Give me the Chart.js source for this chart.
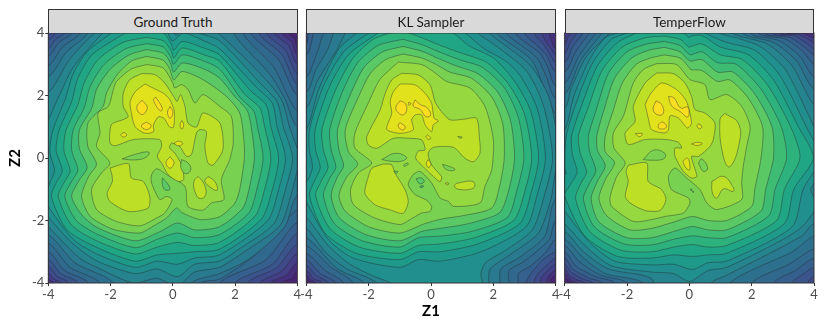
<!DOCTYPE html>
<html lang="en">
<head>
<meta charset="UTF-8">
<title>Contours</title>
<script src="https://cdn.jsdelivr.net/npm/chart.js"></script>
<style>
    body { margin: 0; background: #fff; font-family: Lato, sans-serif; }
    canvas { position: absolute; top: 0; }
    .strip {
        position: absolute; top: 8.5px; height: 24.5px; line-height: 24px;
        box-sizing: border-box; border: 1px solid #333; border-bottom: 0;
        background: #d9d9d9; color: #1a1a1a; font-size: 13.5px; text-align: center;
    }
</style>
</head>
<body>
<canvas id="c0" width="306" height="330" style="left:0"></canvas>
<canvas id="c1" width="271" height="330" style="left:294px"></canvas>
<canvas id="c2" width="271" height="330" style="left:553px"></canvas>
<div class="strip" style="left:48.3px;width:249.4px">Ground Truth</div>
<div class="strip" style="left:306.3px;width:249.4px">KL Sampler</div>
<div class="strip" style="left:564.7px;width:249.4px">TemperFlow</div>
<script>
const tickValues = [-4, -2, 0, 2, 4];
const tickLabels = ['-4', '-2', '0', '2', '4'];

// colour of each contour band, index = band number
const bandColors = ['#fbdd22', '#e1e21b', '#bddf26', '#95d840', '#78d151', '#5ac864', '#3fbc73',
    '#2db27d', '#21a685', '#1f9a8a', '#218f8d', '#25848e', '#297a8e', '#2d708e', '#31688e',
    '#355f8d', '#3a548c', '#3f4a8a', '#433e85', '#46307e', '#482475'];

// each entry: band, then x,y pairs of the contour in Z1/Z2 units. painted in order.
const truthContours = [
 [20, -6,6, 6,6, 6,-6, -6,-6],
 [19, -5,5, 3.7,5, 3.72,4, 3.9,3.85, 4,3.6, 5,3.5, 5,-3.5, 4,-3.6, 3.85,-3.85, 3.5,-4, 3.4,-5, -5,-5],
 [18, -5,5, 3.45,5, 3.5,4, 3.82,3.72, 4,3.3, 5,3.2, 5,-3.25, 4,-3.35, 3.65,-3.75, 3.15,-4, 3.1,-5, -3.8,-5, -3.83,-4, -3.92,-3.93, -4,-3.87, -5,-3.8],
 [17, -5,5, 3.2,5, 3.25,4, 3.72,3.6, 4,3, 5,2.9, 5,-2.95, 4,-3.05, 3.5,-3.62, 2.8,-4, 2.75,-5, -3.55,-5, -3.6,-4, -3.83,-3.87, -4,-3.68, -5,-3.6],
 [16, -5,3.7, -4,3.78, -3.87,3.87, -3.78,4, -3.7,5, 2.95,5, 3,4, 3.62,3.45, 4,2.7, 5,2.6, 5,-2.65, 4,-2.75, 3.35,-3.5, 2.4,-4, 2.35,-5, -3.3,-5, -3.35,-4, -3.72,-3.78, -4,-3.47, -5,-3.4],
 [15, -5,3.45, -4,3.5, -3.78,3.78, -3.5,4, -3.45,5, 2.7,5, 2.75,4, 3.52,3.3, 4,2.35, 5,2.25, 5,-2.3, 4,-2.4, 3.2,-3.4, 2,-4, 1.95,-5, -3,-5, -3.03,-4, -3.6,-3.7, -4,-3.25, -5,-3.15],
 [14, -5,3.2, -4,3.25, -3.68,3.68, -3.25,4, -3.2,5, 2.45,5, 2.5,4, 3.4,3.15, 4,2, 5,1.9, 5,-1.95, 4,-2.05, 3,-3.25, 1.5,-4, 1.45,-5, -2.65,-5, -2.71,-4, -3.48,-3.6, -4,-2.99, -5,-2.9],
 [13, -5,2.9, -4,2.95, -3.55,3.55, -2.98,4, -2.9,5, 2.2,5, 2.25,4, 3.25,2.9, 4,1.5, 5,1.4, 5,-1.55, 4,-1.65, 2.7,-3.05, 1.5,-3.88, .9,-4, .85,-5, -2.3,-5, -2.34,-4, -3.3,-3.5, -4,-2.72, -5,-2.6],
 [12, -5,2.55, -4,2.6, -3.43,3.38, -2.74,4, -2.7,5, 1.9,5, 1.95,4, 3.1,2.7, 3.6,1.9, 4,1, 5,.9, 5,-1.1, 4,-1.2, 3.6,-2.2, 2.5,-3.2, 1.5,-3.7, .6,-4, .5,-5, -1.85,-5, -1.9,-4, -3.15,-3.35, -4,-2.45, -5,-2.35],
 [11, -5,2, -4,2.1, -3.32,3.15, -2.5,4, -1.5,4.6, .5,4.6, 1.45,4, 2.95,2.55, 3.5,1.85, 3.75,1, 4,.3, 4.15,0, 4,-.4, 3.85,-1, 3.45,-2.15, 2.3,-3, 1.5,-3.5, .7,-3.65, .15,-4.1, -.5,-3.85, -1.27,-4, -2.4,-3.52, -3,-3.2, -4,-2.19, -5,-1],
 [10, -4.3,.4, -4,1.2, -3.6,2.1, -3.2,2.9, -2.24,4, -1.5,4.5, -.25,4.3, .1,3.93, .35,4.1, .8,4, 1.5,3.75, 2.8,2.4, 3.35,1.8, 3.55,1, 3.85,0, 3.62,-1, 3.25,-2.1, 2.15,-2.9, 1.5,-3.3, .7,-3.4, .15,-3.8, -.5,-3.55, -1.2,-3.7, -2.4,-3.31, -3.2,-2.75, -4,-1.87, -4.3,-1.2, -4.25,-.4],
 [9, -1.97,4, -1,4.3, -.3,4.25, -.02,3.75, .35,4, 1,3.75, 1.5,3.5, 2.65,2.3, 3.2,1.75, 3.35,1, 3.62,0, 3.4,-1, 3.05,-2, 1.5,-3.1, .7,-3.2, .15,-3.4, -.5,-3.3, -1.2,-3.5, -2.4,-3.09, -3.2,-2.6, -4,-1.55, -4.1,-1.2, -3.95,-.8, -3.8,-.4, -3.95,.2, -3.85,.9, -3.45,1.9, -3.2,2.7, -2.75,3.4],
 [8, -1.53,4, -.84,4.1, -.3,4, -.05,3.65, .03,3.45, .3,3.73, 1,3.52, 1.5,3.3, 2.5,2.15, 3,1.7, 3.15,1, 3.4,0, 3.2,-1, 2.85,-1.95, 1.5,-2.92, .7,-3, .15,-3.05, -.5,-3.1, -1.2,-3.3, -2.4,-2.88, -3.4,-2.3, -3.9,-1.23, -3.75,-.8, -3.55,-.42, -3.75,.25, -3.65,.9, -3.25,1.8, -3.05,2.55, -2.6,3.3],
 [7, -.84,3.86, -.3,3.75, -.05,3.42, .03,3.2, .3,3.52, 1,3.3, 1.5,3.1, 2.3,2.05, 2.8,1.6, 2.95,1, 3.15,0, 2.95,-1, 2.65,-1.85, 1.5,-2.7, .7,-2.8, .15,-2.7, -.5,-2.85, -1.2,-3.07, -2.4,-2.67, -3.25,-2.15, -3.68,-1.23, -3.5,-.8, -3.3,-.42, -3.5,.25, -3.43,.9, -3.05,1.7, -2.85,2.4, -2.4,3.15, -1.6,3.7],
 [6, -.84,3.66, -.3,3.55, -.08,3.25, .03,3, .3,3.3, 1,3.1, 1.5,2.85, 2.15,1.95, 2.6,1.5, 2.72,1, 2.9,0, 2.7,-1, 2.45,-1.75, 1.5,-2.45, .7,-2.55, .15,-2.4, -.5,-2.6, -1.2,-2.87, -2.4,-2.45, -3.1,-2, -3.47,-1.23, -3.25,-.75, -3.05,-.38, -3.25,.25, -3.2,.9, -2.85,1.6, -2.65,2.3, -2.2,3, -1.5,3.5],
 [5, -.84,3.47, -.3,3.35, -.08,3.05, .03,2.75, .3,3.04, 1,2.85, 1.5,2.56, 1.98,1.98, 2.4,1.5, 2.55,.8, 2.62,0, 2.45,-1, 2.25,-1.6, 1.5,-2.2, .7,-2.3, .15,-2.08, -.4,-2.35, -1.2,-2.65, -2.4,-2.24, -2.9,-1.85, -3.25,-1.23, -3,-.7, -2.75,-.3, -3,.3, -3,.9, -2.6,1.6, -2.45,2.2, -2,2.85, -1.4,3.3],
 [4, -.84,3.25, -.31,3.13, -.1,2.85, .03,2.5, .3,2.77, .98,2.5, 1.72,1.97, 2.15,1.44, 2.28,.6, 2.3,0, 2.15,-1, 1.99,-1.45, 1.5,-1.88, .87,-1.97, .3,-1.75, .12,-1.6, -.2,-1.92, -.63,-2.18, -1.06,-2.4, -1.92,-2.28, -2.65,-1.87, -2.93,-1.23, -2.7,-.58, -2.45,-.2, -2.73,.37, -2.72,1.13, -2.24,1.65, -2.13,2.08, -1.8,2.65, -1.33,3.1],
 [3, -.84,2.99, -.31,2.88, 0,2.4, .06,2.24, .28,2.35, .49,2.19, .71,1.76, .97,2.03, 1.51,1.65, 1.88,1.33, 1.94,.48, 1.83,-.05, 1.56,-.69, 1.64,-1.33, 1.24,-1.44, .97,-1.67, .49,-1.55, .39,-.91, -.2,-.53, -.52,-.34, -.68,-.53, -.68,-.8, -.42,-1.33, -.2,-1.23, -.02,-1.33, -.26,-1.76, -.52,-1.92, -1.06,-2.17, -1.81,-2.03, -2.45,-1.65, -2.61,-1.01, -2.29,-.48, -2.02,-.16, -2.45,.37, -2.34,.8, -2.4,1.44, -2.07,1.65, -1.91,2.19, -1.81,2.45, -1.33,2.85],
 [5, -.33,-.64, -.15,-.85, -.1,-1.01, -.26,-1.01, -.34,-.8],
 [2, -1,2.7, -.58,2.67, -.26,2.4, .06,1.92, .14,1.81, .25,2.03, .39,1.65, .49,1.12, .76,.99, .97,1.44, 1.51,1.12, 1.61,.27, 1.29,-.23, 1.13,-.16, 1.03,.37, 1.08,.85, .87,.91, .76,.8, .6,.11, .44,.05, .22,.37, -.04,.48, -.1,.32, .06,.16, .28,-.21, .35,-.69, .17,-.75, -.15,-.53, -.36,-.16, -.5,.05, -.36,.37, -.42,.59, -1.27,.59, -1.86,.39, -2.02,.48, -1.97,1.07, -1.59,1.23, -1.43,1.33, -1.59,1.65, -1.59,2.08, -1.38,2.51],
 [2, -2.02,-.32, -1.43,-.18, -1.33,-.64, -.95,-.75, -.74,-1.23, -.79,-1.6, -1.43,-1.71, -2.02,-1.39, -2.11,-1.12, -1.94,-.75, -1.97,-.48],
 [2, .81,-.59, .99,-.8, 1.06,-1.17, .87,-1.3, .71,-1.07, .68,-.75],
 [2, 1.13,-.59, 1.35,-.75, 1.43,-1.03, 1.24,-.96, 1.03,-.75],
 [4, .28,-.05, .49,-.16, .58,-.37, .42,-.5, .26,-.32],
 [4, -1.63,-.03, -1.2,.12, -.77,.19, -.85,.03, -1.2,-.06],
 [1, -.89,2.37, -.62,2.23, -.3,2.07, -.09,1.86, .05,1.48, .02,.98, -.11,1, -.28,1.27, -.46,1.32, -.62,1.06, -.62,.84, -.89,.79, -1.21,1, -1.35,1.54, -1.37,1.8, -1.21,2.12],
 [1, -1.68,.74, -1.58,.81, -1.48,.74, -1.58,.67],
 [1, .29,1.2, .35,1.06, .29,.92, .23,1.06],
 [1, .04,.46, .18,.54, .32,.46, .18,.39],
 [1, -.09,.04, .04,-.15, -.09,-.33, -.22,-.15],
 [0, -.99,1.85, -.82,1.62, -.99,1.39, -1.16,1.62],
 [0, -.55,1.95, -.34,1.6, -.4,1.5, -.62,1.85],
 [0, -.09,1.65, .0,1.46, -.09,1.27, -.17,1.46],
 [0, -.85,1.15, -.69,1.03, -.85,.91, -1.01,1.03]
];

const klContours = [
 [20, -6,6, 6,6, 6,-6, -6,-6],
 [19, -5,5, 5,5, 5,-3.7, 4,-3.75, 3.85,-3.88, 3.85,-4, 3.8,-5, -3.8,-5, -3.85,-4, -4,-3.9, -5,-3.85],
 [18, -5,5, 3.75,5, 3.8,4, 3.85,3.8, 4,3.5, 5,3.45, 5,-3.55, 4,-3.6, 3.82,-3.72, 3.7,-4, 3.65,-5, -3.65,-5, -3.7,-4, -3.88,-3.88, -4,-3.75, -5,-3.7],
 [17, -5,5, 3.5,5, 3.55,4, 3.7,3.7, 3.85,3.5, 4,3.3, 5,3.25, 5,-3.35, 4,-3.4, 3.75,-3.6, 3.55,-3.8, 3.5,-4, 3.45,-5, -3.45,-5, -3.5,-4, -3.78,-3.85, -4,-3.6, -5,-3.55],
 [16, -5,5, 3.25,5, 3.3,4, 3.6,3.65, 3.8,3.35, 4,3.05, 5,3, 5,-3.15, 4,-3.2, 3.7,-3.45, 3.4,-3.75, 3.3,-4, 3.25,-5, -3.25,-5, -3.3,-4, -3.7,-3.75, -4,-3.45, -5,-3.4],
 [15, -5,3.6, -4,3.65, -3.95,4, -3.9,5, 2.9,5, 3,4, 3.4,3.6, 3.7,3.3, 4,2.75, 5,2.7, 5,-2.9, 4,-3, 3.6,-3.25, 3.2,-3.7, 3.05,-4, 3,-5, -3,-5, -3.05,-4, -3.55,-3.7, -4,-3.25, -5,-3.2],
 [14, -3.78,4, -3.6,5, 2.6,5, 2.7,4, 3.1,3.65, 3.5,3.35, 3.75,2.9, 4,2.3, 5,2.2, 5,-2.5, 4,-2.6, 3.7,-3, 3.2,-3.45, 2.8,-3.7, 2.8,-4, 2.7,-5, -2.7,-5, -2.8,-4, -3.4,-3.6, -4,-3.05, -5,-3, -5,3.2, -4,3.3, -3.85,3.65],
 [13, -3.45,4, -3,5, 2,5, 2.4,4, 2.9,3.6, 3.4,3.2, 3.7,2.6, 4,1.9, 5,1.8, 5,-1.9, 4,-2, 3.8,-2.6, 3,-3.3, 2.5,-3.6, 2.5,-4, 2.4,-5, -2.4,-5, -2.5,-4, -3.2,-3.5, -4,-2.8, -5,-2.7, -5,2.5, -4,2.6, -3.75,3.1],
 [12, -3.13,4, -2,5, 1.5,5, 2.1,4, 3.25,3.1, 4,1.4, 5,1.3, 5,-1.2, 4,-1.3, 3.65,-2.5, 2.8,-3.2, 2.25,-3.55, 2.2,-4, 2.1,-5, -2.1,-5, -2.15,-4, -3,-3.55, -4,-2.55, -5,-2.4, -5,2, -4,2.1, -3.7,2.8, -3.3,3.5],
 [11, -2.75,4, -1,4.8, 1,4.8, 1.85,4, 3.2,2.95, 3.8,1.9, 4.1,.4, 4.15,0, 4,-.4, 3.85,-1.3, 3.45,-2.4, 2.6,-3.05, 1.9,-3.55, 1.85,-4, 1.9,-4.8, -1.7,-4.8, -1.75,-4, -2.7,-3.55, -3.4,-3, -4,-2.25, -4.8,-2, -4.8,1.5, -4,1.6, -3.65,2.45, -3,3.5],
 [10, -2.38,4, -1,4.7, 1,4.7, 1.5,4, 2,3.65, 3.05,2.8, 3.6,1.7, 3.9,0, 3.62,-1.25, 3.25,-2.3, 2.4,-2.95, 1.75,-3.35, 1.6,-3.7, 1.65,-4.2, -1.25,-4.2, -1.3,-4, -1.8,-3.8, -2.6,-3.4, -3.3,-2.8, -4,-1.9, -4.6,-1.5, -4.6,.5, -4,.9, -3.6,2.2, -2.95,3.5],
 [9, -2,4, -1,4.5, .5,4.5, 1.1,4, 1.7,3.5, 2.4,3.1, 2.85,2.65, 3.4,1.6, 3.67,0, 3.4,-1.2, 3.05,-2.2, 1.6,-3, .3,-3.3, -.4,-3.25, -1,-3.5, -2.5,-3.2, -3.3,-2.6, -4,-1.4, -4.2,-1, -3.95,-.7, -3.8,-.3, -3.9,.25, -3.9,.9, -3.45,2.3, -2.8,3.4],
 [8, -1.7,4, -.9,4.3, 0,4.1, .7,4, 1.2,3.6, 2,3.2, 2.65,2.5, 3.2,1.5, 3.45,0, 3.2,-1.15, 2.85,-2.1, 1.5,-2.75, .3,-3, -.4,-3, -1,-3.25, -2.4,-3.05, -3.4,-2.4, -3.9,-1.2, -3.72,-.7, -3.55,-.3, -3.7,.25, -3.72,.9, -3.25,2.3, -2.65,3.3],
 [7, -1.32,4, -.9,4.05, -.3,3.85, .3,3.6, 1,3.35, 1.8,3.05, 2.5,2.35, 3,1.4, 3.23,0, 3,-1.1, 2.65,-2, 1.4,-2.55, .3,-2.75, -.4,-2.8, -1,-3.05, -2.3,-2.85, -3.25,-2.25, -3.7,-1.2, -3.5,-.7, -3.3,-.3, -3.45,.25, -3.5,.9, -3.05,2.2, -2.5,3.2, -1.85,3.8],
 [6, -.9,3.8, -.3,3.63, .25,3.4, .9,3.15, 1.65,2.9, 2.35,2.25, 2.8,1.3, 2.98,0, 2.75,-1.05, 2.45,-1.9, 1.3,-2.35, .3,-2.5, -.4,-2.55, -1,-2.85, -2.2,-2.65, -3.1,-2.1, -3.45,-1.2, -3.25,-.65, -3.05,-.3, -3.2,.25, -3.25,.9, -2.85,2.1, -2.35,3.05, -1.7,3.6],
 [5, -.9,3.57, -.3,3.42, .2,3.2, .8,2.95, 1.5,2.7, 2.15,2.1, 2.55,1.2, 2.68,0, 2.5,-1, 2.2,-1.75, 1.2,-2.1, .3,-2.25, -.3,-2.35, -1,-2.65, -2.1,-2.45, -2.95,-1.9, -3.2,-1.2, -3,-.6, -2.8,-.25, -2.95,.25, -3,.9, -2.6,2, -2.15,2.9, -1.55,3.4],
 [4, -.9,3.33, -.3,3.2, .15,3, .6,2.75, 1.3,2.55, 1.95,1.95, 2.3,1.1, 2.35,0, 2.2,-.9, 1.95,-1.6, 1,-1.85, .35,-1.95, -.2,-2.1, -1,-2.4, -2,-2.2, -2.75,-1.7, -2.95,-1.2, -2.7,-.6, -2.35,-.2, -2.65,.2, -2.75,.9, -2.35,1.9, -1.95,2.7, -1.45,3.15],
 [3, -1.05,3.07, -.3,2.99, .07,2.77, .5,2.45, 1.25,2.24, 1.73,1.65, 2,.59, 1.95,-.37, 1.73,-.91, 1.57,-1.44, .72,-1.55, .56,-1.39, .29,-1.28, .02,-.8, -.35,-.43, -.57,-.53, -.73,-.85, -.51,-1.17, -.14,-1.35, .02,-1.55, -.03,-1.71, -.3,-1.76, -.67,-1.97, -.99,-2.13, -1.8,-1.92, -2.49,-1.49, -2.58,-1.01, -2.33,-.48, -1.9,-.16, -2.44,.32, -2.44,.8, -2.01,1.76, -1.64,2.51],
 [5, -.48,-.66, -.3,-.64, -.22,-.76, -.37,-.82],
 [6, -.35,-.9, -.25,-.88, -.25,-.93, -.35,-.94],
 [2, -.94,2.71, -.41,2.66, -.03,2.34, .13,1.8, .34,1.48, .61,1.22, 1.04,1.24, 1.46,1.27, 1.55,.68, 1.57,.15, 1.36,-.12, 1.09,-.01, .72,.34, .07,.34, -.09,.15, .02,-.22, .34,-.6, .29,-.76, .02,-.54, -.25,-.28, -.49,-.01, -.41,.22, -.19,.26, -.3,.58, -.67,.63, -1.21,.63, -1.74,.31, -2.01,.42, -2.06,.68, -1.63,1.54, -1.47,2.07, -1.26,2.5],
 [2, -1.53,-.19, -1.26,-.22, -1.15,-.49, -.83,-1.02, -.73,-1.4, -.89,-1.77, -1.31,-1.66, -1.79,-1.5, -2.12,-1.13, -2.01,-.6, -1.9,-.33],
 [2, .82,-.81, 1.3,-.74, 1.41,-.86, 1.3,-.99, .88,-1, .75,-.9],
 [2, .46,-.8, .56,-.8, .52,-.87],
 [4, -1.58,-.05, -1.15,.15, -.78,.02, -.94,-.1, -1.31,-.1],
 [4, .37,-.2, .61,-.28, .77,-.36, .66,-.41, .45,-.34],
 [4, -.85,-.19, -.74,-.16, -.76,-.23, -.87,-.26],
 [4, -1.2,-.43, -1.06,-.43, -1.12,-.49],
 [1, -.99,2.37, -.51,2.34, -.19,2.07, .02,1.75, .1,1.27, .24,1.19, .07,1.06, .02,.84, -.19,1.06, -.3,1.38, -.51,1.38, -.62,1.22, -.57,.9, -.99,.79, -1.42,.92, -1.26,1.43, -1.31,1.8, -1.21,2.12],
 [1, -.11,.74, -.01,.63, -.09,.6, -.16,.68],
 [1, -.09,-.05, .0,-.2, -.09,-.3, -.15,-.17],
 [3, .86,.69, 1,.67, .93,.63],
 [0, -.99,1.83, -.83,1.75, -.78,1.54, -.89,1.38, -1.05,1.45, -1.13,1.62],
 [0, -.51,1.86, -.33,1.7, -.14,1.62, -.01,1.38, -.16,1.32, -.35,1.56, -.57,1.66],
 [0, -.72,1.78, -.64,1.74, -.72,1.69],
 [0, -.99,1.13, -.83,1, -.89,.9, -1.01,.95, -1.05,1.06]
];

const flowContours = [
 [20, -6,6, 6,6, 6,-6, -6,-6],
 [19, -5,5, 5,5, 5,-5, -3.8,-5, -3.8,-4, -3.9,-3.92, -4,-3.85, -5,-3.8],
 [18, -5,5, 3.1,5, 3.15,4, 3.6,4, 4,3.85, 5,3.8, 5,-5, -3.55,-5, -3.6,-4, -3.8,-3.9, -4,-3.7, -5,-3.65],
 [17, -3.8,4, -3.7,5, 2.9,5, 2.9,4, 3.5,3.95, 3.9,3.75, 4,3.7, 5,3.65, 5,-5, -3.3,-5, -3.35,-4, -3.6,-3.9, -3.85,-3.75, -4,-3.55, -5,-3.5, -5,3.6, -4,3.65, -3.9,3.85],
 [16, -3.6,4, -3.5,5, 2.6,5, 2.65,4, 3.4,3.9, 3.85,3.6, 4,3.5, 5,3.45, 5,-3.7, 4,-3.8, 3.85,-3.9, 3.8,-4, 3.7,-5, -3,-5, -3.1,-4, -3.4,-3.88, -3.8,-3.65, -4,-3.4, -5,-3.3, -5,3.3, -4,3.35, -3.82,3.7],
 [15, -3.4,4, -3.3,5, 2.35,5, 2.4,4, 3.25,3.85, 3.75,3.5, 4,3.3, 5,3.2, 5,-3.4, 4,-3.5, 3.6,-3.75, 3.3,-4, 3.2,-5, -2.7,-5, -2.8,-4, -3.2,-3.85, -3.75,-3.55, -4,-3.2, -5,-3.1, -5,3, -4,3.05, -3.75,3.55],
 [14, -3.2,4, -3.1,5, 2.15,5, 2.2,4, 3.1,3.8, 3.65,3.4, 4,3, 5,2.9, 5,-3.1, 4,-3.2, 3.4,-3.6, 2.7,-4, 2.6,-5, -2.3,-5, -2.4,-4, -3,-3.8, -3.65,-3.45, -4,-3, -5,-2.9, -5,2.7, -4,2.75, -3.65,3.4],
 [13, -3,4, -2.9,5, 1.9,5, 1.95,4, 2.9,3.75, 3.55,3.25, 4,2.6, 5,2.5, 5,-2.8, 4,-2.9, 3.2,-3.4, 2,-4, 1.9,-5, -1.9,-5, -2,-4, -2.85,-3.75, -3.55,-3.3, -4,-2.8, -5,-2.7, -5,2.35, -4,2.4, -3.55,3.25],
 [12, -2.8,4, -2,5, 1.5,5, 1.7,4, 2.7,3.7, 3.45,3.1, 4,2.2, 5,2.1, 5,-2.4, 4,-2.5, 3.3,-3, 1.3,-4, 1.2,-5, -1.4,-5, -1.5,-4, -2.7,-3.7, -3.45,-3.15, -4,-2.6, -5,-2.5, -5,2, -4,2.05, -3.5,3.1],
 [11, -2.55,4, -1,4.8, .5,4.8, 1.35,4, 2.5,3.65, 3.3,2.95, 4,1.7, 5,1.2, 5,-2, 4,-2.1, 3.6,-2.5, 1.2,-3.75, .7,-4, .5,-4.8, -1,-4.8, -1.2,-3.87, -2.6,-3.55, -3.4,-3, -4,-2.35, -5,-2, -5,1.5, -4,1.6, -3.8,2.2, -3.3,3.25],
 [10, -2.3,4, -1,4.6, .5,4.5, .95,4, 1.5,3.85, 2.3,3.55, 3.1,2.8, 4,1, 4.5,0, 3.9,-1, 4.1,-1.5, 3.5,-2.3, 1.2,-3.5, .6,-3.6, 0,-3.95, -.5,-3.7, -1.2,-3.65, -2.5,-3.45, -3.3,-2.85, -4,-2.1, -4.6,-1.5, -4.6,.5, -4,.9, -3.7,2, -3.2,3.15, -2.7,3.85],
 [9, -2,4, -1,4.4, .2,4.3, .5,4, 1.2,3.7, 2.1,3.45, 2.9,2.65, 3.75,1, 4.2,0, 3.65,-1, 3.3,-2.2, 1.2,-3.3, .6,-3.35, .1,-3.57, -.5,-3.4, -1.2,-3.42, -2.4,-3.3, -3.2,-2.7, -4,-1.7, -4.4,-1.2, -4.1,-.6, -3.95,-.5, -4,-.3, -3.95,.7, -3.6,1.85, -3.1,3.05, -2.5,3.8],
 [8, -1.7,4, -.8,4.1, -.2,4, 0,3.85, .05,3.9, .4,3.92, 1,3.55, 1.9,3.3, 2.7,2.5, 3.5,1, 3.98,0, 3.35,-1, 3.05,-2.1, 1.2,-3.05, .6,-3.1, .1,-3.15, -.5,-3.1, -1.2,-3.2, -2.3,-3.15, -3.35,-2.5, -4,-1.2, -3.85,-.9, -3.6,-.45, -3.75,.1, -3.78,.7, -3.45,1.7, -2.95,2.95, -2.3,3.7],
 [7, -.8,3.9, -.3,3.8, -.02,3.55, .05,3.57, .4,3.65, 1,3.3, 1.7,3.15, 2.5,2.35, 3.25,1, 3.55,0, 3.05,-1, 2.8,-2, 1.2,-2.8, .6,-2.85, .1,-2.77, -.5,-2.85, -1.2,-3, -2.2,-2.95, -3.2,-2.35, -3.65,-1.3, -3.5,-.85, -3.3,-.45, -3.5,.15, -3.56,.7, -3.25,1.6, -2.8,2.8, -2.15,3.55, -1.4,3.85],
 [6, -.8,3.73, -.3,3.6, -.05,3.35, .05,3.3, .4,3.4, .9,3.05, 1.5,3, 2.3,2.2, 2.95,1, 3.12,0, 2.75,-1, 2.55,-1.85, 1.2,-2.55, .6,-2.55, .1,-2.49, -.5,-2.6, -1.2,-2.78, -2.1,-2.75, -3.05,-2.2, -3.4,-1.3, -3.2,-.8, -3,-.4, -3.2,.2, -3.24,.7, -3,1.5, -2.6,2.7, -2,3.4, -1.35,3.65],
 [5, -.8,3.54, -.3,3.4, -.05,3.15, .05,3.1, .4,3.15, .9,2.75, 1.4,2.75, 2.1,2.05, 2.65,1, 2.7,0, 2.45,-1, 2.3,-1.7, 1.2,-2.3, .6,-2.3, .1,-2.19, -.5,-2.35, -1.2,-2.55, -2,-2.55, -2.9,-2.05, -3.15,-1.3, -2.95,-.75, -2.7,-.25, -2.95,.25, -2.97,.7, -2.75,1.5, -2.4,2.55, -1.85,3.2, -1.3,3.45],
 [4, -.8,3.3, -.3,3.2, -.05,2.95, .05,2.83, .4,2.8, .9,2.45, 1.3,2.5, 1.9,1.9, 2.35,1, 2.3,0, 2.1,-1, 2,-1.55, 1.2,-2, .6,-2, .1,-1.87, -.5,-2.05, -1.2,-2.25, -1.9,-2.3, -2.65,-1.85, -2.9,-1.3, -2.7,-.7, -2.4,-.15, -2.7,.2, -2.7,.7, -2.45,1.5, -2.15,2.4, -1.7,3, -1.25,3.2],
 [3, -1.05,3.02, -.41,2.99, .02,2.51, .5,2.35, .66,1.87, 1.2,2.03, 1.68,1.65, 1.95,1.01, 1.84,.37, 1.73,-.27, 1.68,-.8, 1.68,-1.33, .88,-1.65, .56,-1.44, .34,-1.01, -.09,-.64, -.46,-.32, -.67,-.59, -.57,-1.01, -.03,-1.28, .02,-1.44, -.19,-1.76, -.78,-1.87, -1.21,-1.97, -1.8,-2.03, -2.49,-1.55, -2.55,-1.28, -2.33,-.59, -2.06,-.16, -2.42,.32, -2.44,.8, -2.12,1.33, -1.8,2.4, -1.48,2.83],
 [5, .03,-1, .08,-1.0, .06,-1.05],
 [5, .1,-1.06, .14,-1.07, .12,-1.11],
 [2, -1.05,2.72, -.51,2.7, -.14,2.4, .07,1.97, .18,1.55, .5,1.44, .82,1.12, .77,.59, .66,.37, .29,.05, .07,.05, .24,-.59, .07,-.64, -.19,-.43, -.46,.05, -.46,.32, -.25,.32, -.35,.5, -.73,.59, -1.42,.59, -1.96,.43, -2.06,.8, -1.74,1.17, -1.8,1.65, -1.42,2.4],
 [2, 1.14,1.43, 1.57,1.11, 1.6,.47, 1.3,-.28, 1.09,.04, .98,1.22],
 [2, -1.96,-.23, -1.37,-.16, -1.32,-.75, -.89,-1.01, -.75,-1.33, -.94,-1.68, -1.42,-1.68, -1.9,-1.44, -2.06,-1.23, -1.96,-.75, -2.03,-.43],
 [2, .72,-.75, 1.09,-.59, 1.39,-.91, 1.41,-1.07, 1.09,-.99, .88,-1.28, .74,-1.12],
 [4, -1.48,-.05, -1.15,.25, -.78,.14, -.83,-.03, -1.26,-.07],
 [4, .29,-.16, .4,-.03, .59,-.32, .45,-.43],
 [1, -1.42,1.71, -1.26,2.03, -.89,2.4, -.41,2.19, -.09,1.81, .07,1.12, -.06,.96, -.35,1.28, -.62,1.35, -.67,.91, -.78,.8, -1.21,.91, -1.32,1.28],
 [1, -1.74,.78, -1.51,.78, -1.6,.68],
 [1, .24,1.03, .31,1.09, .4,.99, .32,.93],
 [1, .07,.45, .24,.5, .42,.46, .24,.4],
 [1, -.21,-.11, -.06,0, .02,-.27, -.01,-.39, -.14,-.27],
 [0, -1.07,1.83, -.89,1.71, -.83,1.44, -.99,1.37, -1.16,1.55],
 [0, -.67,1.97, -.49,1.92, -.28,1.6, -.05,1.63, -.05,1.31, -.3,1.49, -.57,1.67],
 [0, -.99,1.07, -.86,1.15, -.73,1.01, -.83,.93, -.99,.96]
];

// one closed filled line per contour, later contours on top
function contourDatasets(contours) {
    return contours.map(function(c, i) {
        var pts = [];
        for (var k = 1; k < c.length; k += 2) pts.push({x: c[k], y: c[k + 1]});
        pts.push(pts[0]);
        return {
            data: pts,
            showLine: true,
            fill: 'shape',
            order: contours.length - i,
            backgroundColor: bandColors[c[0]],
            borderColor: 'rgba(35,40,45,0.6)',
            borderWidth: 0.7,
            pointRadius: 0,
            tension: pts.length > 9 ? 0.25 : 0.45
        };
    });
}

const panelBorder = {
    id: 'panelBorder',
    afterDraw(chart) {
        const a = chart.chartArea, ctx = chart.ctx;
        ctx.save();
        ctx.strokeStyle = '#333';
        ctx.lineWidth = 1;
        ctx.strokeRect(a.left, a.top, a.right - a.left, a.bottom - a.top);
        ctx.restore();
    }
};

function axis(extra) {
    return Object.assign({
        type: 'linear', min: -4, max: 4,
        afterBuildTicks: s => { s.ticks = tickValues.map(v => ({value: v})); },
        grid: {drawOnChartArea: false, tickLength: 3, color: '#333'},
        border: {display: false},
        ticks: {
            color: '#4d4d4d', font: {family: 'Lato', size: 13}, padding: 1,
            maxRotation: 0, autoSkip: false,
            callback: v => tickLabels[tickValues.indexOf(v)]
        }
    }, extra);
}

function makeChart(id, contours, padLeft, padRight, yTitle, xTitle) {
    const titleFont = {family: 'Lato', size: 15, weight: 'bold'};
    new Chart(document.getElementById(id), {
        type: 'scatter',
        data: {datasets: contourDatasets(contours)},
        options: {
            responsive: false,
            animation: false,
            layout: {padding: {left: padLeft, right: padRight, top: 33, bottom: 0}},
            elements: {line: {capBezierPoints: false}},
            plugins: {legend: {display: false}, tooltip: {enabled: false}},
            scales: {
                x: axis({
                    afterFit: s => { s.height = 47; },
                    title: {display: !!xTitle, text: xTitle, color: '#000', font: titleFont, padding: {top: 0, bottom: 10}}
                }),
                y: axis({
                    display: padLeft === 0,
                    afterFit: s => { s.width = padLeft === 0 ? 48.3 : 0; },
                    title: {display: !!yTitle, text: yTitle, color: '#000', font: titleFont, padding: {top: 6, bottom: 0}}
                })
            }
        },
        plugins: [panelBorder]
    });
}

makeChart('c0', truthContours, 0, 8.7, 'Z2', '');
makeChart('c1', klContours, 12.3, 9.3, '', 'Z1');
makeChart('c2', flowContours, 11.7, 10, '', '');
</script>
</body>
</html>
